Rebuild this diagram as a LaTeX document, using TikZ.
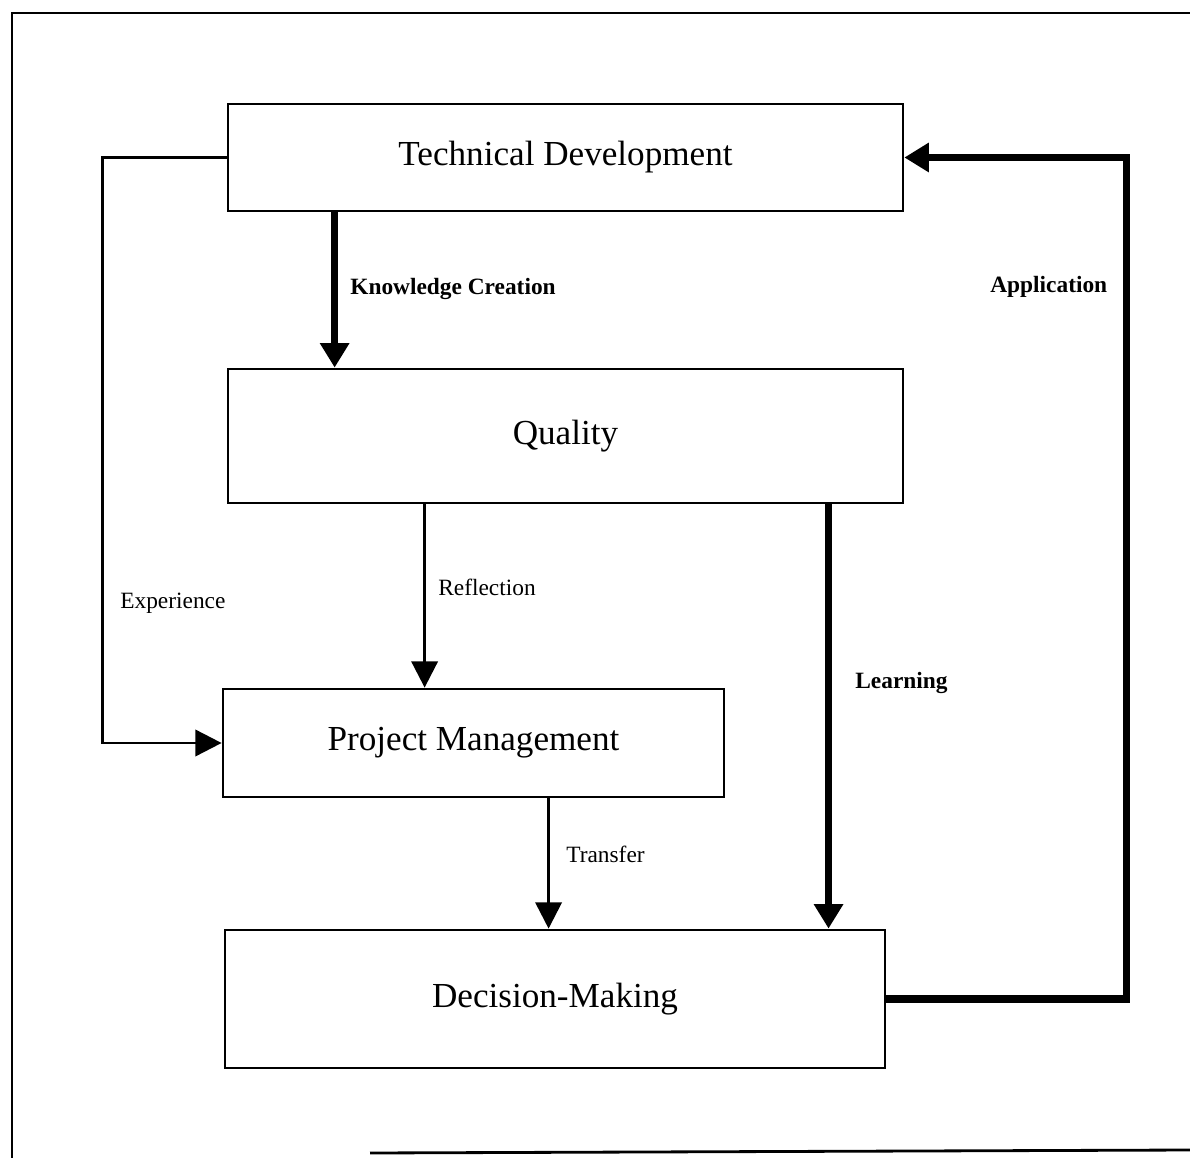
\documentclass[tikz,border=0pt]{standalone}
\usepackage{fontspec}
\setmainfont{Liberation Serif}
\usetikzlibrary{arrows.meta}

\tikzset{   block/.style={draw=black,rectangle,fill=white,line width=1.6pt,inner sep=2pt,font=\fontsize{20}{24}\selectfont},
            thinarrow/.style={line width=1.6pt,-{Triangle[length=15pt,width=15pt]}},
            thickarrow/.style={line width=4pt,-{Triangle[length=14pt,width=16pt]}},
            lbl/.style={anchor=west,inner sep=0pt,font=\fontsize{13.3}{16}\selectfont},
}

\begin{document}
\begin{tikzpicture}[x=0.02cm,y=-0.02cm]
    \useasboundingbox (0,0) rectangle (1190,1158);

    \draw[line width=1.6pt] (1190,13) -- (12,13) -- (12,1158); % outer frame
    \draw[line width=1.6pt] (370,1153) -- (1190,1150);

    \node[block,minimum width=13.5cm,minimum height=2.14cm] (tech) at (565.5,157.5) {Technical Development}; % boxes
    \node[block,minimum width=13.5cm,minimum height=2.68cm] (qual) at (565.5,436) {Quality};
    \node[block,minimum width=10.02cm,minimum height=2.16cm] (proj) at (473.5,743) {Project Management};
    \node[block,minimum width=13.2cm,minimum height=2.76cm] (deci) at (555,999) {Decision-Making};

    \coordinate (know) at ([xshift=2.16cm]tech.south west); % arrow start points
    \coordinate (refl) at ([xshift=3.96cm]qual.south west);
    \coordinate (tran) at ([xshift=6.54cm]proj.south west);
    \coordinate (lear) at ([xshift=12.04cm]qual.south west);

    \draw[thickarrow] (know) -- (know |- qual.north); % arrows
    \draw[thinarrow] (refl) -- (refl |- proj.north);
    \draw[thinarrow] (tran) -- (tran |- deci.north);
    \draw[thickarrow] (lear) -- (lear |- deci.north);
    \draw[thinarrow] (tech.west) -- ++(-2.48cm,0) |- (proj.west);
    \draw[thickarrow] (deci.east) -- ++(4.8cm,0) |- (tech.east);

    \node[lbl,font=\fontsize{13.3}{16}\selectfont\bfseries] (lknow) at (350,289) {Knowledge Creation}; % arrow labels
    \node[lbl] (lrefl) at (438,587) {Reflection};
    \node[lbl] (lexpe) at (120,603) {Experience};
    \node[lbl] (ltran) at (566,854) {Transfer};
    \node[lbl,font=\fontsize{13.3}{16}\selectfont\bfseries] (llear) at (855,683) {Learning};
    \node[lbl,font=\fontsize{13.3}{16}\selectfont\bfseries] (lappl) at (990,287) {Application};
\end{tikzpicture}
\end{document}
